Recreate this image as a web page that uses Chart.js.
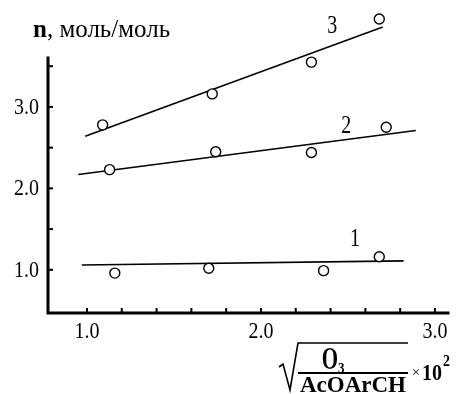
<!DOCTYPE html>
<html>
<head>
<meta charset="utf-8">
<script src="https://cdn.jsdelivr.net/npm/chart.js@4.4.1/dist/chart.umd.min.js"></script>
<style>
html,body{margin:0;padding:0;background:#fff;}
canvas{display:block;}
</style>
</head>
<body>
<canvas id="c" width="456" height="394"></canvas>
<script>
// ---- data ----
const xs1 = [1.16, 1.70, 2.36, 2.68];
const ys1 = [0.96, 1.02, 0.99, 1.16];
const xs2 = [1.13, 1.74, 2.29, 2.72];
const ys2 = [2.23, 2.45, 2.44, 2.75];
const xs3 = [1.09, 1.72, 2.29, 2.68];
const ys3 = [2.78, 3.16, 3.55, 4.08];
// fitted straight lines (end points)
const fitX1 = [0.97, 2.82], fitY1 = [1.06, 1.11];
const fitX2 = [0.95, 2.89], fitY2 = [2.17, 2.71];
const fitX3 = [0.99, 2.70], fitY3 = [2.64, 3.98];
// curve numbers
const curveNames = ["1", "2", "3"];
const curveLabelX = [2.54, 2.49, 2.41];
const curveLabelY = [1.39, 2.78, 4.01];
// ticks
const xTickValues = [1.0,1.2,1.4,1.6,1.8,2.0,2.2,2.4,2.6,2.8,3.0];
const xTickLabels = ["1.0","2.0","3.0"];
const xTickLabelValues = [1.0, 2.0, 3.0];
const yTickValues = [1.0,1.5,2.0,2.5,3.0,3.5];
const yTickLabels = ["1.0","2.0","3.0"];
const yTickLabelValues = [1.0, 2.0, 3.0];
const yAxisTop = 3.6;
const yTitle = ["n", ", моль/моль"];

const zip = (a,b) => a.map((v,i)=>({x:v,y:b[i]}));

const SERIF = '"Liberation Serif", "Times New Roman", serif';

function txt(ctx, s, x, y, font, align, baseline, sy){
  ctx.save();
  ctx.font = font;
  ctx.textAlign = align;
  ctx.textBaseline = baseline;
  ctx.translate(x, y);
  ctx.scale(1, sy);
  ctx.fillText(s, 0, 0);
  ctx.restore();
}

const customPlugin = {
  id: 'custom',
  afterDraw(chart){
    const ctx = chart.ctx, xs = chart.scales.x, ys = chart.scales.y;
    const x0 = xs.getPixelForValue(xs.min), x1 = xs.getPixelForValue(xs.max);
    const y0 = ys.getPixelForValue(ys.min), yt = ys.getPixelForValue(yAxisTop);
    ctx.save();
    ctx.fillStyle = '#000';
    ctx.strokeStyle = '#000';
    // axes
    ctx.lineWidth = 3;
    ctx.lineCap = 'square';
    ctx.beginPath();
    ctx.moveTo(x0, yt); ctx.lineTo(x0, y0); ctx.lineTo(x1, y0);
    ctx.stroke();
    ctx.lineCap = 'butt';
    // y ticks
    ctx.lineWidth = 2;
    yTickValues.forEach(v=>{
      const p = ys.getPixelForValue(v);
      ctx.beginPath(); ctx.moveTo(x0, p); ctx.lineTo(x0+5, p); ctx.stroke();
    });
    // x ticks
    xTickValues.forEach(v=>{
      const p = xs.getPixelForValue(v);
      ctx.beginPath(); ctx.moveTo(p, y0); ctx.lineTo(p, y0-5); ctx.stroke();
    });
    // tick labels
    yTickLabelValues.forEach((v,i)=>{
      txt(ctx, yTickLabels[i], x0-9, ys.getPixelForValue(v)+7, '20px '+SERIF, 'right', 'alphabetic', 1.2);
    });
    xTickLabelValues.forEach((v,i)=>{
      txt(ctx, xTickLabels[i], xs.getPixelForValue(v), 338, '20px '+SERIF, 'center', 'alphabetic', 1.2);
    });
    // curve labels
    curveNames.forEach((n,i)=>{
      txt(ctx, n, xs.getPixelForValue(curveLabelX[i]), ys.getPixelForValue(curveLabelY[i])+8, '20px '+SERIF, 'center', 'alphabetic', 1.3);
    });
    // y title
    ctx.save();
    ctx.font = 'bold 25px '+SERIF;
    ctx.textBaseline = 'alphabetic';
    ctx.fillText(yTitle[0], 33, 37);
    const w = ctx.measureText(yTitle[0]).width;
    ctx.font = '25px '+SERIF;
    ctx.fillText(yTitle[1], 33+w, 37);
    ctx.restore();
    // x title: sqrt(O3 / AcOArCH) x 10^2
    ctx.lineWidth = 1.6;
    ctx.beginPath();
    ctx.moveTo(279, 367); ctx.lineTo(283, 364); ctx.lineTo(290, 390); ctx.lineTo(298, 343); ctx.lineTo(408, 343);
    ctx.stroke();
    ctx.lineWidth = 2;
    ctx.beginPath(); ctx.moveTo(298, 373); ctx.lineTo(408, 373); ctx.stroke();
    txt(ctx, 'O', 330, 369, 'bold 21px '+SERIF, 'center', 'alphabetic', 1.5);
    txt(ctx, '3', 338, 373, 'bold 13px '+SERIF, 'left', 'alphabetic', 1.2);
    txt(ctx, 'AcOArCH', 353, 392, 'bold 23px '+SERIF, 'center', 'alphabetic', 1.0);
    txt(ctx, '×', 416, 377, '15px '+SERIF, 'center', 'alphabetic', 1.0);
    txt(ctx, '10', 422, 380, 'bold 20px '+SERIF, 'left', 'alphabetic', 1.15);
    txt(ctx, '2', 443, 366, 'bold 14px '+SERIF, 'left', 'alphabetic', 1.2);
    ctx.restore();
  }
};

const pointStyle = {showLine:false, pointRadius:5, pointHoverRadius:5, pointBackgroundColor:'#fff', pointBorderColor:'#000', pointBorderWidth:1.4, borderColor:'#000', backgroundColor:'#fff'};
const lineStyle = {showLine:true, pointRadius:0, borderColor:'#000', borderWidth:1.6, fill:false};

new Chart(document.getElementById('c'), {
  type: 'scatter',
  data: {
    datasets: [
      Object.assign({label:'fit1', data: zip(fitX1, fitY1), order:2}, lineStyle),
      Object.assign({label:'fit2', data: zip(fitX2, fitY2), order:2}, lineStyle),
      Object.assign({label:'fit3', data: zip(fitX3, fitY3), order:2}, lineStyle),
      Object.assign({label:'1', data: zip(xs1, ys1), order:1}, pointStyle),
      Object.assign({label:'2', data: zip(xs2, ys2), order:1}, pointStyle),
      Object.assign({label:'3', data: zip(xs3, ys3), order:1}, pointStyle)
    ]
  },
  options: {
    responsive: false,
    animation: false,
    layout: {padding: {left: 48, right: 8, top: 10, bottom: 81}},
    plugins: {legend:{display:false}, tooltip:{enabled:false}},
    scales: {
      x: {type:'linear', display:false, min:0.776, max:3.075},
      y: {type:'linear', display:false, min:0.47, max:4.19}
    }
  },
  plugins: [customPlugin]
});
</script>
</body>
</html>
